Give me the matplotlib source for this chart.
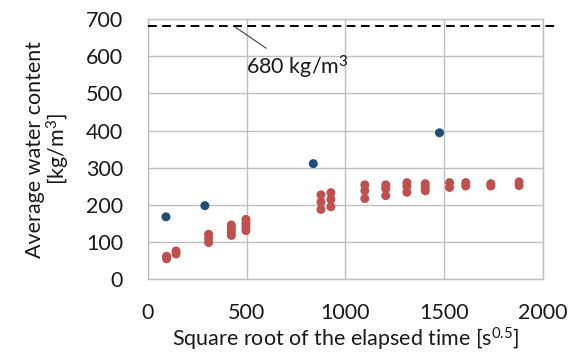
import matplotlib
matplotlib.use("Agg")
import matplotlib.pyplot as plt

plt.rcParams['font.family'] = ['Lato', 'DejaVu Sans']
plt.rcParams['mathtext.fontset'] = 'custom'
plt.rcParams['mathtext.rm'] = 'Lato'
plt.rcParams['mathtext.it'] = 'Lato:italic'
plt.rcParams['mathtext.default'] = 'regular'

# Measured average water content (blue) and simulated profiles (red)
blue_x = [91, 288, 837, 1476]
blue_y = [168, 198, 311, 394]

red_x = [94, 94, 142, 142,
         307, 307, 307,
         422, 422, 422, 422,
         496, 496, 496, 496,
         876, 876, 876,
         926, 926, 926,
         1098, 1098, 1098,
         1204, 1204, 1204,
         1311, 1311, 1311,
         1404, 1404, 1404,
         1527, 1527,
         1609, 1609,
         1736, 1736,
         1879, 1879]
red_y = [55, 62, 68, 76,
         99, 110, 121,
         118, 127, 137, 146,
         131, 141, 151, 161,
         188, 208, 227,
         195, 215, 233,
         217, 238, 254,
         225, 244, 254,
         234, 250, 260,
         238, 248, 257,
         247, 260,
         251, 260,
         251, 257,
         252, 262]

saturation = 680
x_ticks = [0, 500, 1000, 1500, 2000]
y_ticks = [0, 100, 200, 300, 400, 500, 600, 700]

FS = 15.5
TXT = '#1a1a1a'

fig = plt.figure(figsize=(5.77, 3.62), dpi=100)
ax = fig.add_axes([0.2565, 0.2285, 0.6845, 0.719])

ax.set_xlim(0, 2000)
ax.set_ylim(0, 700)
ax.set_xticks(x_ticks)
ax.set_yticks(y_ticks)
ax.tick_params(length=0, labelsize=FS, colors=TXT)
ax.tick_params(axis='y', pad=18)
ax.tick_params(axis='x', pad=17)
ax.grid(True, color='#c0c0c0', linewidth=1.0)
ax.set_axisbelow(True)
for s in ax.spines.values():
    s.set_color('#c0c0c0')
    s.set_linewidth(1.0)

ax.scatter(red_x, red_y, s=42, color='#c0504d', edgecolors='none', zorder=3)
ax.scatter(blue_x, blue_y, s=42, color='#1f4e79', edgecolors='none', zorder=3)

# Saturation water content line, extends past the plot area
ax.plot([0, 2070], [saturation, saturation], color='black', linewidth=1.4,
        linestyle=(0, (4.5, 2.8)), clip_on=False, zorder=4)
ax.annotate(f'{saturation} kg/m$^3$', xy=(440, 679), xytext=(496, 571),
            fontsize=FS, color=TXT, va='center', ha='left',
            arrowprops=dict(arrowstyle='-', color='#404040', linewidth=0.8,
                            shrinkA=3, shrinkB=0,
                            relpos=(0.27, 1.0)))

ax.set_xlabel('Square root of the elapsed time [s$^{0.5}$]', fontsize=FS,
              color=TXT, labelpad=2)
ax.set_ylabel('Average water content\n[kg/m$^3$]', fontsize=FS,
              color=TXT, linespacing=1.0, labelpad=10)

fig.savefig('out.png', dpi=100)
